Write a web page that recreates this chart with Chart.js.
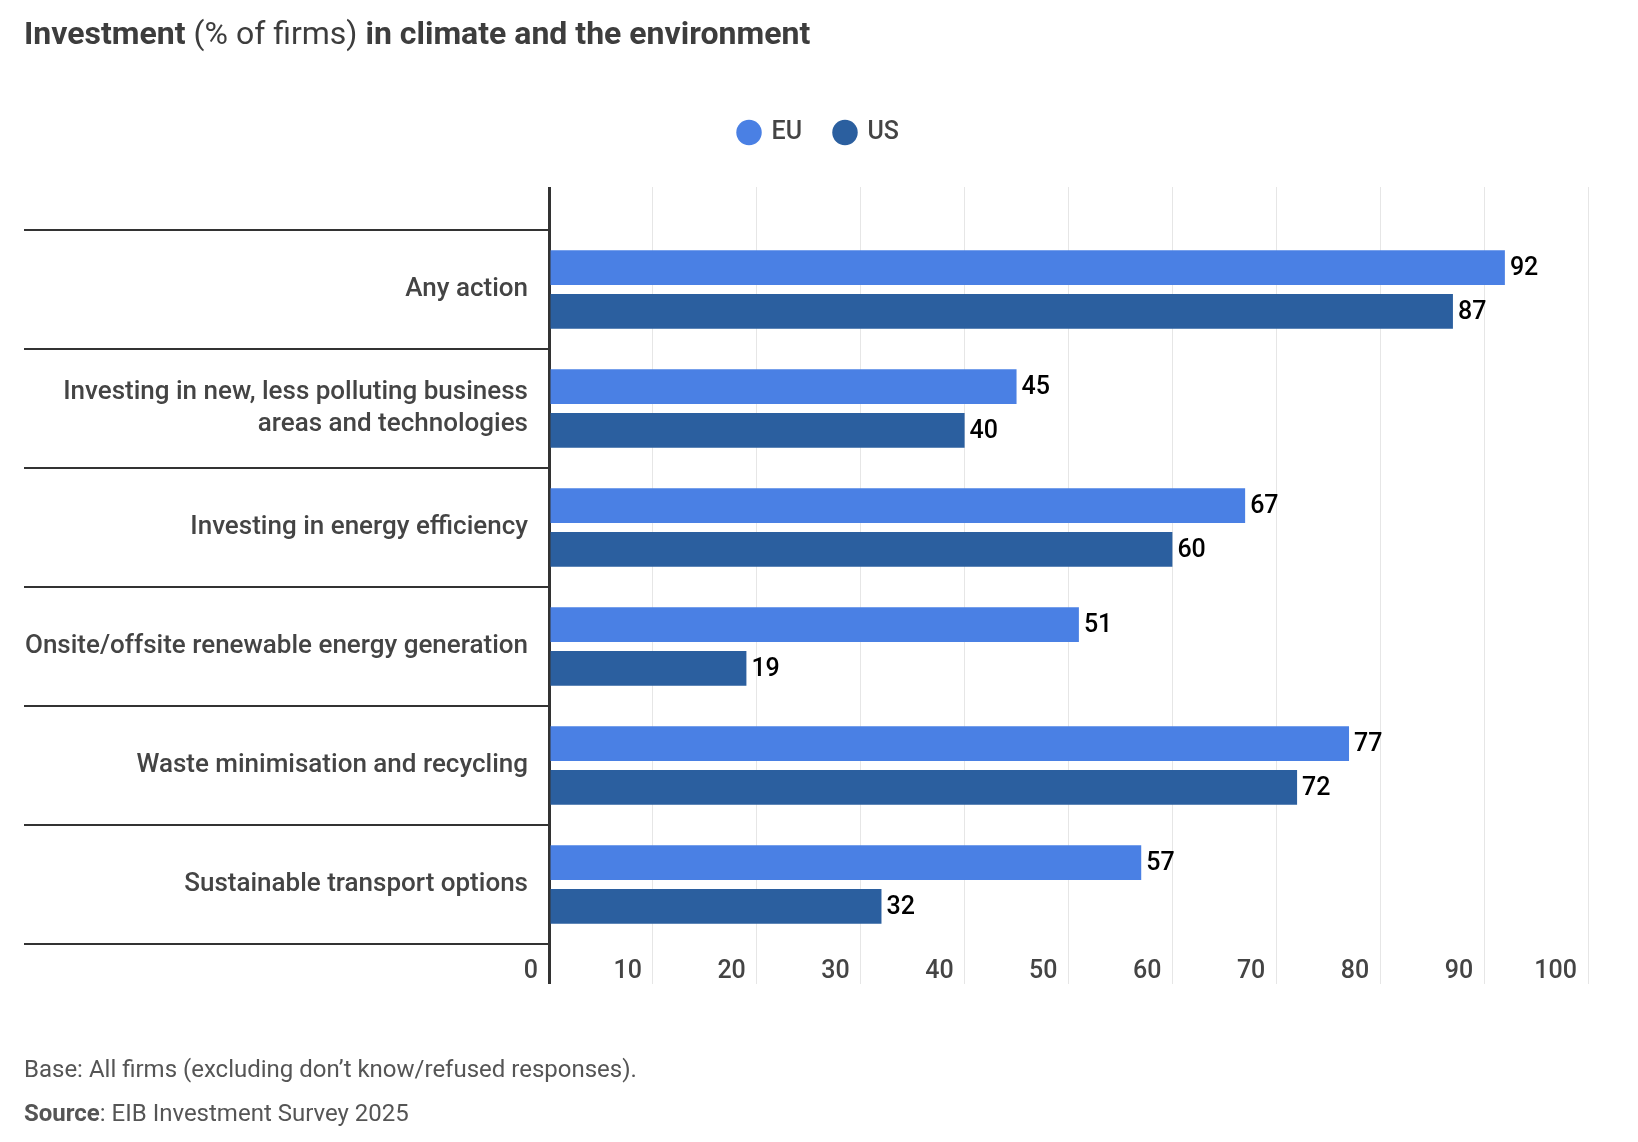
<!DOCTYPE html>
<html>
<head>
<meta charset="utf-8">
<script src="https://cdn.jsdelivr.net/npm/chart.js@4.4.1/dist/chart.umd.min.js"></script>
<style>
  body { margin: 0; background: #fff; font-family: Roboto, sans-serif; }
  #wrap { position: relative; width: 1638px; height: 1142px; }
  #title { position: absolute; left: 24px; top: 14px; font-size: 32px; color: #3d3d3d; white-space: nowrap; }
  #title b { font-weight: 700; }
  #notes { position: absolute; left: 24px; top: 1047px; font-size: 24px; color: #555; line-height: 44px; }
  canvas { position: absolute; left: 0; top: 0; }
</style>
</head>
<body>
<div id="wrap">
  <canvas id="chart" width="1638" height="1142"></canvas>
  <div id="title"><b>Investment</b> (% of firms) <b>in climate and the environment</b></div>
  <div id="notes">
    <div>Base: All firms (excluding don’t know/refused responses).</div>
    <div><b>Source</b>: EIB Investment Survey 2025</div>
  </div>
</div>
<script>
const categories = [
  'Any action',
  ['Investing in new, less polluting business', 'areas and technologies'],
  'Investing in energy efficiency',
  'Onsite/offsite renewable energy generation',
  'Waste minimisation and recycling',
  'Sustainable transport options'
];
const euValues = [92, 45, 67, 51, 77, 57];
const usValues = [87, 40, 60, 19, 72, 32];
const xTicks = [0, 10, 20, 30, 40, 50, 60, 70, 80, 90, 100];

const gridColor = ctx => ctx.tick && ctx.tick.value === 0 ? '#333' : '#e6e6e6';
const gridWidth = ctx => ctx.tick && ctx.tick.value === 0 ? 3 : 1;

// value labels at the end of each bar
const valueLabels = {
  id: 'valueLabels',
  afterDatasetsDraw(chart) {
    const ctx = chart.ctx;
    ctx.save();
    ctx.font = '500 25px Roboto';
    ctx.fillStyle = '#000';
    ctx.textBaseline = 'middle';
    chart.data.datasets.forEach((ds, i) => {
      chart.getDatasetMeta(i).data.forEach((bar, j) => {
        ctx.fillText(ds.data[j], bar.x + 5, bar.y + 1);
      });
    });
    ctx.restore();
  }
};

// the legend box starts at the left padding (24) but should be centred on the page
const legendShift = {
  id: 'legendShift',
  afterLayout(chart) {
    chart.legend.left += 13;
    chart.legend.right += 13;
  }
};

new Chart(document.getElementById('chart'), {
  type: 'bar',
  data: {
    labels: categories,
    datasets: [
      { label: 'EU', data: euValues, backgroundColor: '#4a80e4' },
      { label: 'US', data: usValues, backgroundColor: '#2b5f9f' }
    ]
  },
  options: {
    indexAxis: 'y',
    responsive: false,
    animation: false,
    categoryPercentage: 0.736,
    barPercentage: 0.79,
    layout: { padding: { top: 87, left: 24, right: 50, bottom: 158 } },
    plugins: {
      legend: {
        labels: {
          usePointStyle: true,
          pointStyle: 'circle',
          boxWidth: 20,
          boxHeight: 18,
          padding: 33,
          color: '#444',
          font: { family: 'Roboto', size: 25, weight: '500' }
        }
      },
      tooltip: { enabled: false }
    },
    scales: {
      x: {
        position: 'bottom',
        min: 0,
        max: 100,
        border: { display: false },
        grid: { color: gridColor, lineWidth: gridWidth, drawTicks: true, tickLength: 40 },
        ticks: {
          stepSize: 10,
          autoSkip: false,
          align: 'end',
          labelOffset: -11,
          padding: -27,
          color: '#444',
          font: { family: 'Roboto', size: 25, weight: '500' },
          callback: (v) => xTicks.includes(v) ? v : ''
        },
        afterFit: s => { s.height = 40; }
      },
      x2: {
        type: 'linear',
        position: 'top',
        min: 0,
        max: 100,
        border: { display: false },
        grid: { color: gridColor, lineWidth: gridWidth, drawOnChartArea: false, drawTicks: true, tickLength: 43 },
        ticks: { display: false, stepSize: 10 },
        afterFit: s => { s.height = 75; }
      },
      y: {
        border: { display: false },
        grid: { offset: true, drawOnChartArea: false, drawTicks: true, tickLength: 525, tickColor: '#333', lineWidth: 2 },
        ticks: {
          padding: -504,
          color: '#444',
          font: { family: 'Roboto', size: 26, weight: '500', lineHeight: 1.25 }
        },
        afterFit: s => { s.width = 525; }
      }
    }
  },
  plugins: [valueLabels, legendShift]
});
</script>
</body>
</html>
